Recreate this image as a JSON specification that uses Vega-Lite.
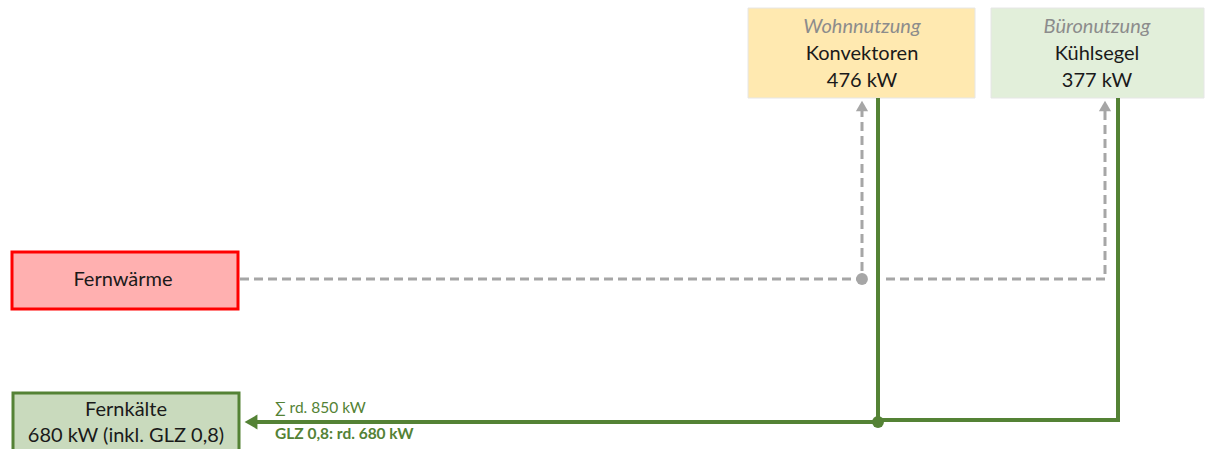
{
  "$schema": "https://vega.github.io/schema/vega-lite/v6.json",
  "width": 1213,
  "height": 449,
  "padding": 0,
  "autosize": {"type": "none"},
  "background": "white",
  "config": {"view": {"stroke": null}, "font": "Lato"},
  "datasets": {
    "boxes": [
      {"box": "Wohnnutzung", "x1": 748, "x2": 975, "y1": 8, "y2": 98, "group": "top"},
      {"box": "Büronutzung", "x1": 991, "x2": 1204, "y1": 8, "y2": 98, "group": "top"},
      {"box": "Fernwärme", "x1": 12, "x2": 238, "y1": 252, "y2": 309, "group": "bottom"},
      {"box": "Fernkälte", "x1": 13, "x2": 239, "y1": 393, "y2": 453, "group": "bottom"}
    ],
    "gray": [
      {"path": "a", "step": 1, "x": 240, "y": 279},
      {"path": "a", "step": 2, "x": 862, "y": 279},
      {"path": "a", "step": 3, "x": 862, "y": 110},
      {"path": "b", "step": 1, "x": 886, "y": 279},
      {"path": "b", "step": 2, "x": 1105, "y": 279},
      {"path": "b", "step": 3, "x": 1105, "y": 110}
    ],
    "green": [
      {"path": "a", "step": 1, "x": 878, "y": 98},
      {"path": "a", "step": 2, "x": 878, "y": 422},
      {"path": "a", "step": 3, "x": 252, "y": 422},
      {"path": "b", "step": 1, "x": 1118, "y": 98},
      {"path": "b", "step": 2, "x": 1118, "y": 420},
      {"path": "b", "step": 3, "x": 878, "y": 420}
    ],
    "markers": [
      {"kind": "grayDot", "x": 862, "y": 279},
      {"kind": "greenDot", "x": 878, "y": 422},
      {"kind": "grayUp", "x": 862, "y": 106},
      {"kind": "grayUp", "x": 1105, "y": 106},
      {"kind": "greenLeft", "x": 251, "y": 422}
    ],
    "titles": [
      {"x": 862, "y": 27, "text": "Wohnnutzung"},
      {"x": 1097, "y": 27, "text": "Büronutzung"}
    ],
    "body": [
      {"x": 862, "y": 54, "text": "Konvektoren"},
      {"x": 862, "y": 81, "text": "476 kW"},
      {"x": 1097, "y": 54, "text": "Kühlsegel"},
      {"x": 1097, "y": 81, "text": "377 kW"},
      {"x": 123, "y": 280, "text": "Fernwärme"},
      {"x": 126, "y": 410, "text": "Fernkälte"},
      {"x": 126, "y": 436, "text": "680 kW (inkl. GLZ 0,8)"}
    ],
    "flow": [
      {"x": 275, "y": 408, "text": "∑ rd. 850 kW", "weight": "normal"},
      {"x": 275, "y": 434, "text": "GLZ 0,8: rd. 680 kW", "weight": "bold"}
    ]
  },
  "layer": [
    {
      "data": {"name": "boxes"},
      "transform": [{"filter": "datum.group === 'top'"}],
      "mark": {"type": "rect", "stroke": "#e6e6e6", "strokeWidth": 1},
      "encoding": {
        "x": {"field": "x1", "type": "quantitative", "scale": {"domain": [0, 1213], "nice": false, "zero": false}, "axis": null},
        "x2": {"field": "x2"},
        "y": {"field": "y1", "type": "quantitative", "scale": {"domain": [0, 449], "nice": false, "zero": false, "reverse": true}, "axis": null},
        "y2": {"field": "y2"},
        "fill": {"field": "box", "type": "nominal", "legend": null,
          "scale": {"domain": ["Wohnnutzung", "Büronutzung", "Fernwärme", "Fernkälte"], "range": ["#FFE9B0", "#E2EFDA", "#FFB0B0", "#C9DABD"]}}
      }
    },
    {
      "data": {"name": "boxes"},
      "transform": [{"filter": "datum.group === 'bottom'"}],
      "mark": {"type": "rect", "strokeWidth": 3},
      "encoding": {
        "x": {"field": "x1", "type": "quantitative"},
        "x2": {"field": "x2"},
        "y": {"field": "y1", "type": "quantitative"},
        "y2": {"field": "y2"},
        "fill": {"field": "box", "type": "nominal", "legend": null},
        "stroke": {"field": "box", "type": "nominal", "legend": null,
          "scale": {"domain": ["Fernwärme", "Fernkälte"], "range": ["#FF0000", "#548235"]}}
      }
    },
    {
      "data": {"name": "gray"},
      "mark": {"type": "line", "color": "#A6A6A6", "strokeWidth": 3, "strokeDash": [9, 5], "strokeCap": "butt"},
      "encoding": {
        "x": {"field": "x", "type": "quantitative"},
        "y": {"field": "y", "type": "quantitative"},
        "detail": {"field": "path"},
        "order": {"field": "step", "type": "quantitative"}
      }
    },
    {
      "data": {"name": "green"},
      "mark": {"type": "line", "color": "#548235", "strokeWidth": 4, "strokeCap": "butt", "strokeJoin": "miter"},
      "encoding": {
        "x": {"field": "x", "type": "quantitative"},
        "y": {"field": "y", "type": "quantitative"},
        "detail": {"field": "path"},
        "order": {"field": "step", "type": "quantitative"}
      }
    },
    {
      "data": {"name": "markers"},
      "mark": {"type": "point", "filled": true, "opacity": 1},
      "encoding": {
        "x": {"field": "x", "type": "quantitative"},
        "y": {"field": "y", "type": "quantitative"},
        "shape": {"field": "kind", "type": "nominal", "legend": null,
          "scale": {"domain": ["grayDot", "greenDot", "grayUp", "greenLeft"], "range": ["circle", "circle", "triangle-up", "triangle-left"]}},
        "color": {"field": "kind", "type": "nominal", "legend": null,
          "scale": {"domain": ["grayDot", "greenDot", "grayUp", "greenLeft"], "range": ["#A6A6A6", "#548235", "#A6A6A6", "#548235"]}},
        "size": {"field": "kind", "type": "nominal", "legend": null,
          "scale": {"type": "ordinal", "domain": ["grayDot", "greenDot", "grayUp", "greenLeft"], "range": [140, 140, 150, 220]}}
      }
    },
    {
      "data": {"name": "titles"},
      "mark": {"type": "text", "fontStyle": "italic", "fontSize": 20, "color": "#8C8C8C", "align": "center", "baseline": "middle"},
      "encoding": {
        "x": {"field": "x", "type": "quantitative"},
        "y": {"field": "y", "type": "quantitative"},
        "text": {"field": "text"}
      }
    },
    {
      "data": {"name": "body"},
      "mark": {"type": "text", "fontSize": 20, "color": "#1a1a1a", "align": "center", "baseline": "middle"},
      "encoding": {
        "x": {"field": "x", "type": "quantitative"},
        "y": {"field": "y", "type": "quantitative"},
        "text": {"field": "text"}
      }
    },
    {
      "data": {"name": "flow"},
      "transform": [{"filter": "datum.weight === 'normal'"}],
      "mark": {"type": "text", "fontSize": 15.5, "color": "#548235", "align": "left", "baseline": "middle"},
      "encoding": {
        "x": {"field": "x", "type": "quantitative"},
        "y": {"field": "y", "type": "quantitative"},
        "text": {"field": "text"}
      }
    },
    {
      "data": {"name": "flow"},
      "transform": [{"filter": "datum.weight === 'bold'"}],
      "mark": {"type": "text", "fontSize": 15.5, "fontWeight": "bold", "color": "#548235", "align": "left", "baseline": "middle"},
      "encoding": {
        "x": {"field": "x", "type": "quantitative"},
        "y": {"field": "y", "type": "quantitative"},
        "text": {"field": "text"}
      }
    }
  ]
}
